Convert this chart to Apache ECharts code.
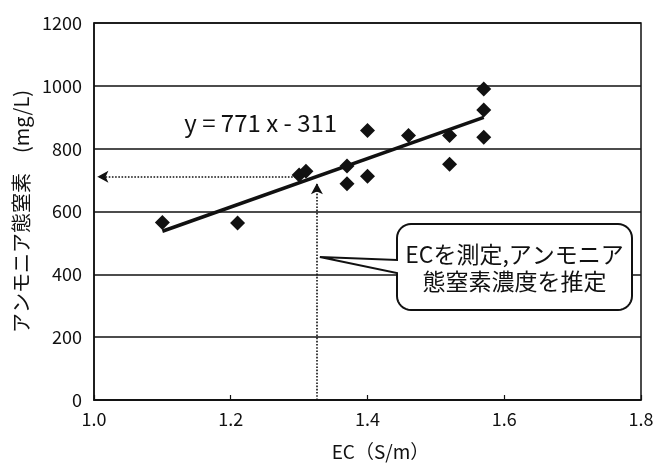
<!DOCTYPE html>
<html><head><meta charset="utf-8">
<script src="https://cdn.jsdelivr.net/npm/echarts@6/dist/echarts.min.js"></script>
<style>html,body{margin:0;padding:0;background:#fff}#c{width:663px;height:466px}</style>
</head><body><div id="c"></div>
<script>
const FONT = '"Noto Sans CJK JP", "Noto Sans", sans-serif';

// Measured samples: EC (S/m) and ammonium nitrogen (mg/L)
const ecValues  = [1.10, 1.21, 1.30, 1.31, 1.37, 1.37, 1.40, 1.40, 1.46, 1.52, 1.52, 1.57, 1.57, 1.57];
const nh4Values = [565,  563,  716,  728,  745,  688,  858,  712,  842,  842,  750,  990,  923,  836];

// Regression line y = 771x - 311, drawn over the sampled EC range
const slope = 771, intercept = -311;
const fitRange = [1.10, 1.57];
const fitLabel = 'y = 771 x - 311';

// Estimation guide: measured EC read up to the line, then across to the axis
const guideEC = 1.326;
const guideArrowTop = 690;
const guideFromEC = 1.30;
const guideNH4 = 711;
const calloutTipNH4 = 455;
const calloutLines = ['ECを測定,アンモニア', '態窒素濃度を推定'];

// Axes
const xMin = 1.0, xMax = 1.8, xStep = 0.2;
const yMin = 0, yMax = 1200, yStep = 200;
const xName = 'EC（S/m）';
const yName = 'アンモニア態窒素　(mg/L)';

const points = ecValues.map((x, i) => [x, nh4Values[i]]);
const fitLine = fitRange.map(x => [x, slope * x + intercept]);

const chart = echarts.init(document.getElementById('c'), null, {renderer: 'canvas'});
const ink = '#111';

chart.setOption({
  animation: false,
  backgroundColor: '#fff',
  textStyle: {fontFamily: FONT},
  grid: {left: 94, right: 22, top: 23, bottom: 64, show: true, borderColor: ink, borderWidth: 1.5, backgroundColor: 'transparent'},
  xAxis: {
    type: 'value', min: xMin, max: xMax, interval: xStep,
    name: xName, nameLocation: 'middle', nameGap: 42,
    nameTextStyle: {fontSize: 19, color: ink, fontFamily: FONT, padding: [0, 0, 0, 26]},
    axisLine: {show: true, lineStyle: {color: ink, width: 1.5}},
    axisTick: {show: true, inside: true, length: 5, lineStyle: {color: ink, width: 1.2}},
    axisLabel: {fontSize: 18, color: ink, margin: 10, formatter: v => v.toFixed(1)},
    splitLine: {show: false}
  },
  yAxis: {
    type: 'value', min: yMin, max: yMax, interval: yStep,
    name: yName, nameLocation: 'middle', nameGap: 58, nameRotate: 90,
    nameTextStyle: {fontSize: 20, color: ink, fontFamily: FONT},
    axisLine: {show: true, lineStyle: {color: ink, width: 1.5}},
    axisTick: {show: false},
    axisLabel: {fontSize: 18, color: ink, margin: 12, formatter: v => String(v)},
    splitLine: {show: true, lineStyle: {color: ink, width: 1.5}}
  },
  series: [
    {
      type: 'line', data: fitLine, symbol: 'none', z: 3,
      lineStyle: {color: ink, width: 3.5}
    },
    {
      type: 'scatter', data: points, symbol: 'diamond', symbolSize: 15, z: 4,
      itemStyle: {color: ink, opacity: 1}
    },
    {
      type: 'line', data: [], z: 2,
      markLine: {
        silent: true, symbol: ['none', 'arrow'], symbolSize: [9, 11],
        label: {show: false},
        lineStyle: {color: ink, type: 'dotted', width: 1.6},
        data: [
          [{coord: [guideEC, yMin]}, {coord: [guideEC, guideArrowTop]}],
          [{coord: [guideFromEC, guideNH4]}, {coord: [xMin + 0.005, guideNH4]}]
        ]
      }
    }
  ]
});

// Equation label and the callout box with its pointer to the EC guide
const eqPos = chart.convertToPixel({gridIndex: 0}, [1.132, 883]);
const tip = chart.convertToPixel({gridIndex: 0}, [guideEC, calloutTipNH4]);
const L = 397, T = 224, R = 632, B = 310, r = 14, py1 = 260, py2 = 273;

// Outline of a rounded box with a pointer on its left side
function arc(cx, cy, a0, a1) {
  const pts = [];
  for (let i = 0; i <= 8; i++) {
    const a = a0 + (a1 - a0) * i / 8;
    pts.push([cx + r * Math.cos(a), cy + r * Math.sin(a)]);
  }
  return pts;
}
const P = Math.PI;
const outline = [].concat(
  arc(L + r, T + r, P, 1.5 * P),
  arc(R - r, T + r, 1.5 * P, 2 * P),
  arc(R - r, B - r, 0, 0.5 * P),
  arc(L + r, B - r, 0.5 * P, P),
  [[L, py2], [tip[0] + 3, tip[1]], [L, py1]]
);

chart.setOption({
  graphic: [
    {
      type: 'text', x: eqPos[0], y: eqPos[1], z: 10,
      style: {text: fitLabel, font: `24px ${FONT}`, fill: ink, textVerticalAlign: 'middle'}
    },
    {
      type: 'polygon', z: 10, shape: {points: outline},
      style: {fill: '#fff', stroke: ink, lineWidth: 2}
    },
    {
      type: 'text', x: (L + R) / 2, y: (T + B) / 2 + 1, z: 11,
      style: {
        text: calloutLines.join('\n'), font: `23px ${FONT}`, fill: ink,
        textAlign: 'center', textVerticalAlign: 'middle', lineHeight: 27
      }
    }
  ]
});
</script>
</body></html>
